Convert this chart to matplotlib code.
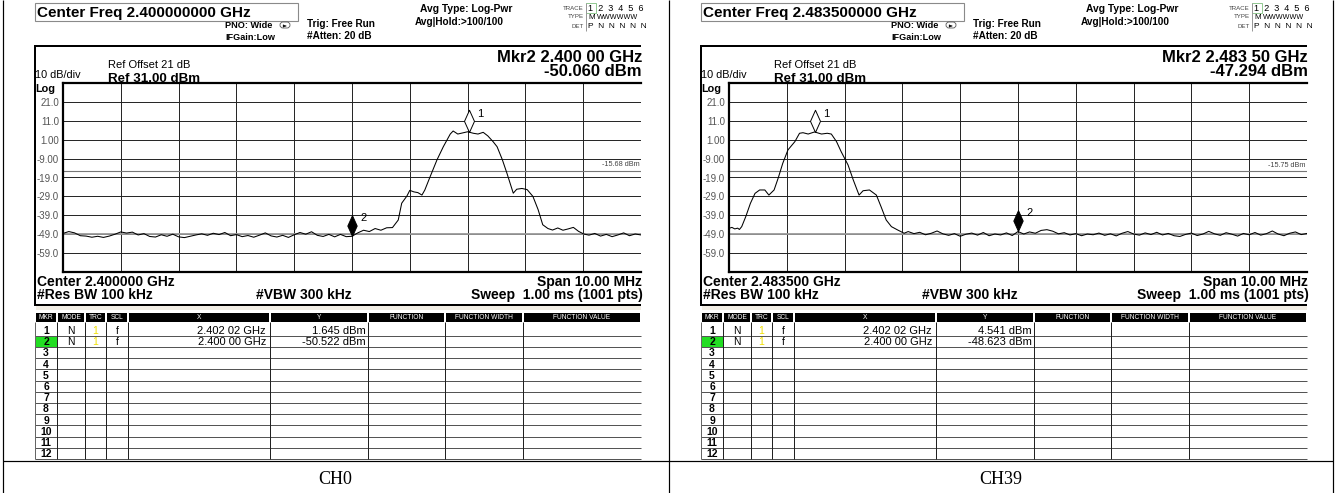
import matplotlib.pyplot as plt
from matplotlib.path import Path
from matplotlib.patches import Rectangle, FancyBboxPatch

plt.rcParams['font.family'] = ['Liberation Sans', 'DejaVu Sans']

# values
captions = ['CH0', 'CH39']
center_freq = ['2.400000000 GHz', '2.483500000 GHz']
center_short = ['2.400000 GHz', '2.483500 GHz']
mkr2_freq = ['2.400 00 GHz', '2.483 50 GHz']
mkr2_level = ['-50.060 dBm', '-47.294 dBm']
disp_line = [-15.68, -15.75]

y_levels = [21, 11, 1, -9, -19, -29, -39, -49, -59]
y_labels = ['21.0', '11.0', '1.00', '-9.00', '-19.0', '-29.0', '-39.0', '-49.0', '-59.0']
x_divs = [-4, -3, -2, -1, 0, 1, 2, 3, 4]

tbl_headers = ['MKR', 'MODE', 'TRC', 'SCL', 'X', 'Y', 'FUNCTION', 'FUNCTION WIDTH', 'FUNCTION VALUE']
tbl_x = [['2.402 02 GHz', '2.400 00 GHz'], ['2.402 02 GHz', '2.400 00 GHz']]
tbl_y = [['1.645 dBm', '-50.522 dBm'], ['4.541 dBm', '-48.623 dBm']]

# marker positions: offset from centre (MHz), level (dBm)
mkr_off = [[2.02, 0.0], [-3.52, 0.0]]
mkr_lvl = [[5.0, -50.06], [5.1, -47.29]]

# traces: offset from centre (MHz), level (dBm)
ch0_off = [-5.0, -4.9, -4.8, -4.7, -4.6, -4.5, -4.4, -4.3, -4.2, -4.1,
           -4.0, -3.9, -3.8, -3.7, -3.6, -3.5, -3.4, -3.3, -3.2, -3.1,
           -3.0, -2.9, -2.8, -2.7, -2.6, -2.5, -2.4, -2.3, -2.2, -2.1,
           -2.0, -1.9, -1.8, -1.7, -1.6, -1.5, -1.4, -1.3, -1.2, -1.1,
           -1.0, -0.9, -0.8, -0.7, -0.6, -0.5, -0.4, -0.3, -0.2, -0.1,
           0.0, 0.1, 0.2, 0.3, 0.4, 0.5, 0.6, 0.7, 0.8, 0.86,
           0.95, 1.0, 1.07, 1.14, 1.21, 1.26, 1.35, 1.47, 1.58, 1.70,
           1.75, 1.83, 1.93, 2.00, 2.10, 2.18, 2.27, 2.35, 2.44, 2.51,
           2.60, 2.68, 2.79, 2.85, 2.94, 3.03, 3.13, 3.22, 3.30, 3.39,
           3.47, 3.56, 3.65, 3.74, 3.83, 3.92, 4.01, 4.10, 4.20, 4.30,
           4.40, 4.50, 4.60, 4.70, 4.80, 4.90, 5.0]
ch0_lvl = [-48.6, -47.6, -48.3, -49.8, -50.0, -50.6, -50.1, -50.7, -50.0, -49.0,
           -47.8, -48.4, -47.9, -49.4, -48.7, -50.2, -50.5, -49.3, -50.1, -49.0,
           -50.4, -50.8, -50.1, -49.4, -48.8, -49.6, -48.5, -49.2, -48.1, -49.8,
           -49.2, -50.3, -49.7, -50.6, -49.5, -48.3, -49.9, -50.5, -49.6, -50.7,
           -49.3, -48.1, -49.0, -47.7, -49.6, -50.2, -49.1, -50.4, -49.1, -50.3,
           -50.1, -48.3, -46.9, -47.6, -46.0, -46.9, -45.6, -45.5, -41.5, -32.6,
           -28.8, -25.8, -26.6, -27.0, -28.3, -25.6, -18.7, -9.7, -2.7, 4.0,
           5.6, 4.0, 4.7, 5.2, 4.4, 4.0, 4.9, 3.0, 0.0, -2.7,
           -9.5, -16.7, -27.3, -25.2, -24.8, -25.4, -29.0, -36.0, -44.0, -46.0,
           -46.8, -45.7, -46.9, -46.2, -45.4, -47.5, -48.9, -49.5, -48.6, -50.0,
           -49.1, -50.3, -49.4, -48.3, -49.8, -48.9, -49.4]

ch39_off = [-5.0, -4.95, -4.9, -4.85, -4.82, -4.78, -4.71, -4.63, -4.55, -4.47,
            -4.38, -4.31, -4.22, -4.15, -4.07, -3.98, -3.86, -3.78, -3.72, -3.63,
            -3.52, -3.40, -3.30, -3.23, -3.14, -3.06, -2.94, -2.85, -2.75, -2.68,
            -2.57, -2.45, -2.37, -2.28, -2.19, -2.08, -1.97, -1.9, -1.8, -1.7,
            -1.6, -1.5, -1.4, -1.3, -1.2, -1.1, -1.0, -0.9, -0.8, -0.7,
            -0.6, -0.5, -0.4, -0.3, -0.2, -0.1, 0.0, 0.1, 0.2, 0.3,
            0.4, 0.5, 0.6, 0.7, 0.8, 0.9, 1.0, 1.1, 1.2, 1.3,
            1.4, 1.5, 1.6, 1.7, 1.8, 1.9, 2.0, 2.1, 2.2, 2.3,
            2.4, 2.5, 2.6, 2.7, 2.8, 2.9, 3.0, 3.1, 3.2, 3.3,
            3.4, 3.5, 3.6, 3.7, 3.8, 3.9, 4.0, 4.1, 4.2, 4.3,
            4.4, 4.5, 4.6, 4.7, 4.8, 4.9, 5.0]
ch39_lvl = [-45.9, -45.4, -46.2, -45.8, -46.5, -45.0, -39.7, -32.7, -27.4, -25.6,
            -25.6, -28.3, -25.6, -19.4, -11.5, -4.4, 0.0, 4.4, 4.7, 4.0,
            5.1, 4.0, 4.4, 4.0, 0.0, -5.3, -12.4, -20.3, -28.3, -26.0,
            -25.6, -28.3, -34.4, -41.5, -45.0, -46.8, -48.5, -47.6, -48.7, -48.0,
            -49.3, -48.5, -47.3, -48.8, -49.6, -48.7, -50.1, -49.0, -48.4, -49.5,
            -48.1, -49.8, -48.9, -49.4, -48.3, -49.7, -47.6, -48.9, -47.8, -48.5,
            -47.0, -46.6, -47.4, -48.8, -48.2, -49.4, -48.7, -49.8, -48.9, -49.3,
            -48.4, -49.6, -48.8, -49.9, -48.5, -47.6, -48.9, -49.5, -48.3, -49.2,
            -48.0, -49.4, -48.6, -49.8, -50.2, -49.1, -48.4, -49.7, -48.9, -47.5,
            -48.8, -49.6, -48.2, -49.0, -50.0, -48.6, -49.3, -48.1, -49.5, -48.7,
            -47.3, -48.9, -49.8, -48.5, -47.8, -49.2, -48.6]

traces = [(ch0_off, ch0_lvl), (ch39_off, ch39_lvl)]

W, H = 1336, 493
fig = plt.figure(figsize=(W / 100, H / 100), dpi=100)
bg = fig.add_axes([0, 0, 1, 1])
bg.set_xlim(0, W)
bg.set_ylim(H, 0)
bg.axis('off')


def hline(y, x0, x1, lw=1.0, c='k'):
    bg.plot([x0, x1], [y, y], color=c, lw=lw * 0.72, solid_capstyle='butt')


def vline(x, y0, y1, lw=1.0, c='k'):
    bg.plot([x, x], [y0, y1], color=c, lw=lw * 0.72, solid_capstyle='butt')


def txt(x, y, s, size, weight='normal', ha='left', color='k', **kw):
    bg.text(x, y, s, fontsize=size, fontweight=weight, ha=ha, va='center',
            color=color, **kw)


# diamond with its bottom tip on the data point
diamond = Path([(0, 0), (0.45, 1), (0, 2), (-0.45, 1), (0, 0)],
               [Path.MOVETO, Path.LINETO, Path.LINETO, Path.LINETO, Path.CLOSEPOLY])

col_edges = [35, 57, 85, 106, 128, 270, 368, 445, 523, 641]
row_top, row_h = 324.5, 11.2

for i, ox in enumerate([0, 666]):
    # header strip
    bg.add_patch(Rectangle((35 + ox, 3), 263, 18, fc='white', ec='#8a8a8a', lw=0.8))
    txt(37 + ox, 12.5, 'Center Freq ' + center_freq[i], 11, 'bold')
    txt(225 + ox, 25, 'PNO: Wide', 6.6, 'bold')
    txt(225 + ox, 37, 'IFGain:Low', 6.6, 'bold')
    bg.add_patch(FancyBboxPatch((280 + ox, 22), 10, 6, boxstyle='round,pad=0,rounding_size=3',
                                fc='white', ec='#555', lw=0.6))
    bg.annotate('', xy=(289 + ox, 26), xytext=(283 + ox, 26),
                arrowprops=dict(arrowstyle='-|>', lw=0.5, color='k', mutation_scale=4))
    txt(307 + ox, 24, 'Trig: Free Run', 7.2, 'bold')
    txt(307 + ox, 36, '#Atten: 20 dB', 7.2, 'bold')
    txt(420 + ox, 9, 'Avg Type: Log-Pwr', 7.4, 'bold')
    txt(415 + ox, 22, 'Avg|Hold:>100/100', 7.2, 'bold')

    # trace block
    txt(584 + ox, 8, 'TRACE', 4.4, ha='right', color='#444')
    txt(584 + ox, 17, 'TYPE', 4.4, ha='right', color='#444')
    txt(584 + ox, 26, 'DET', 4.4, ha='right', color='#444')
    vline(586 + ox, 3, 31, c='#999')
    bg.add_patch(Rectangle((586 + ox, 3), 10, 10, fc='none', ec='#7fbf7f', lw=0.6))
    txt(588 + ox, 8.5, '1  2  3  4  5  6', 6.6)
    txt(588 + ox, 17.5, 'M', 5.8)
    txt(597 + ox, 17.5, 'WWWWWW', 5.2, stretch='condensed')
    txt(588 + ox, 26.5, 'P  N  N  N  N  N', 6.0)

    # screen frame
    hline(46, 35 + ox, 641 + ox, lw=2)
    vline(35 + ox, 45, 306, lw=2)
    hline(305, 35 + ox, 641 + ox, lw=2)
    bg.add_patch(Rectangle((36 + ox, 306), 605, 4, fc='#f1ede4', ec='none'))

    txt(108 + ox, 64.5, 'Ref Offset 21 dB', 8.0)
    txt(108 + ox, 78.5, 'Ref 31.00 dBm', 9.6, 'bold')
    txt(35 + ox, 75.5, '10 dB/div', 7.8)
    txt(35 + ox, 89, 'Log', 7.8, 'bold')
    txt(642 + ox, 57, 'Mkr2 ' + mkr2_freq[i], 12, 'bold', ha='right')
    txt(642 + ox, 72, mkr2_level[i], 12, 'bold', ha='right')

    txt(37 + ox, 282, 'Center ' + center_short[i], 10, 'bold')
    txt(37 + ox, 295, '#Res BW 100 kHz', 10, 'bold')
    txt(256 + ox, 295, '#VBW 300 kHz', 10, 'bold')
    txt(642 + ox, 282, 'Span 10.00 MHz', 10, 'bold', ha='right')
    txt(643 + ox, 295, 'Sweep  1.00 ms (1001 pts)', 10, 'bold', ha='right')

    # graticule
    ax = fig.add_axes([(63 + ox) / W, 1 - 272 / H, 578 / W, 189 / H])
    ax.set_xlim(-5, 5)
    ax.set_ylim(-69, 31)
    ax.set_xticks(x_divs)
    ax.set_yticks(y_levels, y_labels)
    ax.tick_params(axis='x', length=0, labelbottom=False)
    ax.tick_params(axis='y', length=0, pad=3, labelsize=7, labelcolor='#555')
    ax.grid(True, color='#222', lw=0.7)
    ax.set_axisbelow(True)
    for s in ['top', 'left', 'bottom']:
        ax.spines[s].set_linewidth(1.6)
    ax.spines['right'].set_visible(False)
    ax.axhline(-49, color='#9a9a9a', lw=1.3, zorder=1.5)
    ax.axhline(disp_line[i], color='#777', lw=0.8, zorder=1.5)
    ax.text(4.97, disp_line[i] + 1.5, f'{disp_line[i]:.2f} dBm', ha='right', va='bottom',
            fontsize=5.2, color='#444')

    f, lv = traces[i]
    ax.plot(f, lv, color='k', lw=0.75, zorder=3)
    ax.plot(mkr_off[i][0], mkr_lvl[i][0], marker=diamond, ms=32, mfc='white', mec='k',
            mew=0.7, ls='none', zorder=4, clip_on=False)
    ax.plot(mkr_off[i][1], mkr_lvl[i][1], marker=diamond, ms=30, mfc='k', mec='k',
            mew=0.7, ls='none', zorder=4, clip_on=False)
    for m in range(2):
        ax.annotate(str(m + 1), (mkr_off[i][m], mkr_lvl[i][m]), xytext=(6, 13),
                    textcoords='offset points', fontsize=8, va='center')

    # marker table
    for c in range(len(tbl_headers)):
        x0, x1 = col_edges[c] + ox, col_edges[c + 1] + ox
        bg.add_patch(Rectangle((x0 + 1, 313), x1 - x0 - 2, 9, fc='black', ec='none'))
        txt((x0 + x1) / 2, 317.8, tbl_headers[c], 4.8, color='white', ha='center')
    bg.add_patch(Rectangle((35 + ox, row_top + row_h), 22, row_h, fc='#22dd22', ec='none'))
    for r in range(12):
        yb = row_top + (r + 1) * row_h
        yc = yb - row_h / 2 + 0.8
        hline(yb, 35 + ox, 641 + ox, c='#555')
        txt(46 + ox, yc, str(r + 1), 7.5, 'bold', ha='center')
    for e in col_edges[:-1]:
        vline(e + ox, 322, row_top + 12 * row_h, c='#666' if e == 35 else '#222')
    for r in range(2):
        yc = row_top + (r + 0.5) * row_h + 0.8
        txt(71 + ox, yc, 'N', 7.5, ha='center')
        txt(95.5 + ox, yc, '1', 7.5, ha='center', color='#f0e000')
        txt(117 + ox, yc, 'f', 7.5, ha='center')
        txt(266 + ox, yc, tbl_x[i][r], 8, ha='right')
        txt(366 + ox, yc, tbl_y[i][r], 8, ha='right')

    # document caption
    txt(335 + ox, 479, captions[i], 13, ha='center', family='Liberation Serif')

# document table borders
for x in [2.5, 668.5, 1332.5]:
    vline(x, 0, H, lw=1.2)
hline(461, 2.5, 1332.5, lw=1.2)

fig.savefig('out.png', dpi=100)
